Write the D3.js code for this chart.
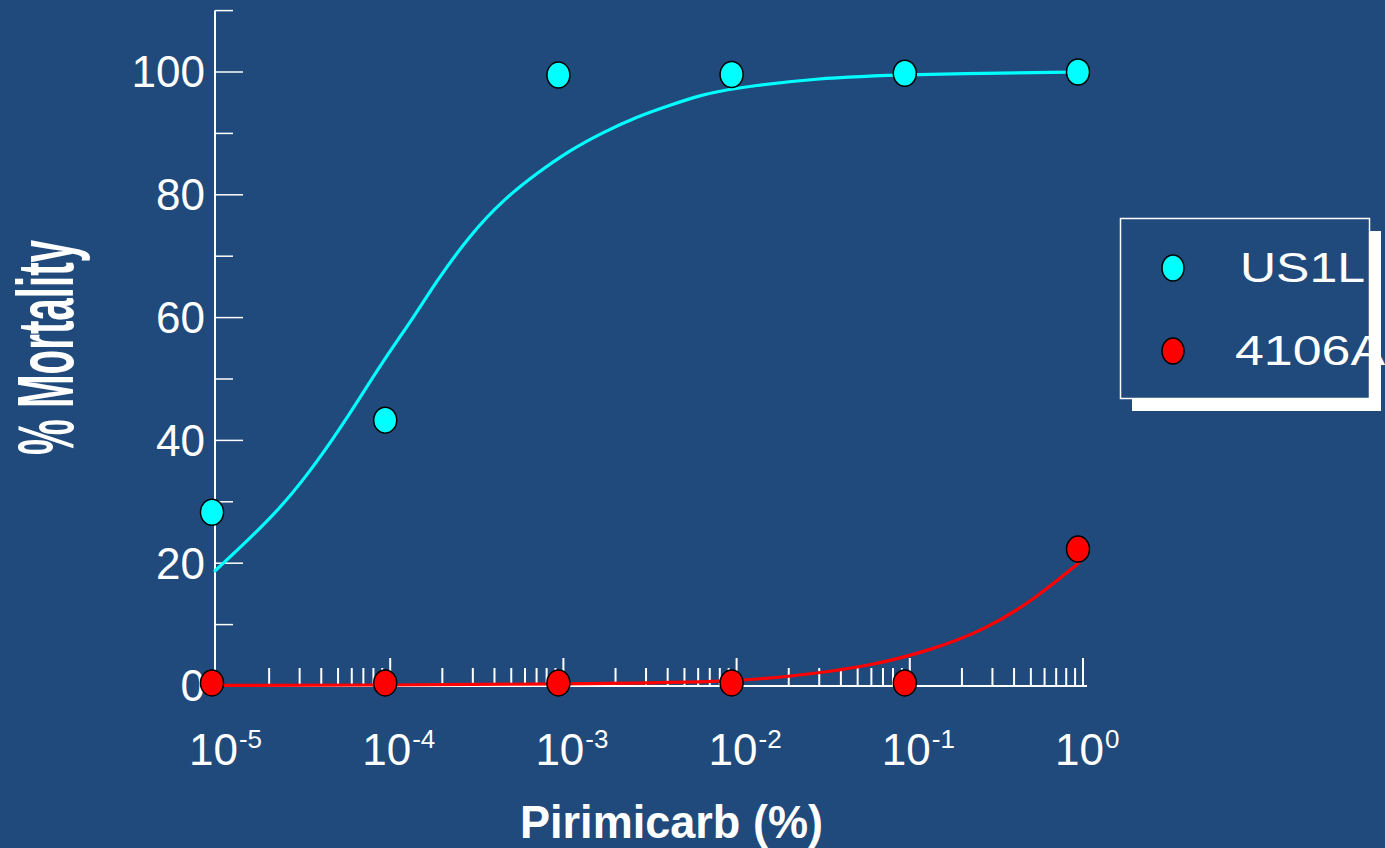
<!DOCTYPE html>
<html>
<head>
<meta charset="utf-8">
<script src="https://cdn.jsdelivr.net/npm/d3@7"></script>
<style>
  html, body { margin: 0; padding: 0; background: #204a7b; overflow: hidden; }
  svg { display: block; }
  text { font-family: "Liberation Sans", Arial, sans-serif; fill: #ffffff; }
</style>
</head>
<body>
<svg id="chart" width="1385" height="848"></svg>
<script>
// ---- Data ----
const seriesNames = ["US1L", "4106A"];
const seriesColors = ["#00ffff", "#ff0000"];
const concentrations = [1e-5, 1e-4, 1e-3, 1e-2, 1e-1, 1];
const us1lMortality = [28.3, 43.3, 99.5, 99.6, 99.8, 100];
const a4106Mortality = [0.5, 0.5, 0.5, 0.5, 0.5, 22.3];

// fitted curves
const us1lFitX = [1e-5, 1.58e-5, 2.46e-5, 3.83e-5, 5.96e-5, 9.29e-5, 1.45e-4, 1.89e-4, 3.01e-4, 4.68e-4, 7.30e-4, 1.14e-3, 1.77e-3, 2.75e-3, 4.29e-3, 6.39e-3, 9.5e-3, 3.0e-2, 9.5e-2, 1];
const us1lFitY = [18.6, 23.8, 29.2, 36.0, 43.9, 52.6, 60.4, 65.6, 73.5, 79.2, 83.5, 87.3, 90.2, 92.7, 94.6, 96.2, 97.3, 99.0, 99.6, 100];
const a4106FitX = [1e-5, 1e-4, 1e-3, 1e-2, 2.0e-2, 5.9e-2, 0.14, 0.28, 0.54, 1];
const a4106FitY = [0.1, 0.15, 0.3, 0.7, 1.5, 3.1, 5.9, 9.1, 14.0, 20.2];

const xTickLabels = [["10", "-5"], ["10", "-4"], ["10", "-3"], ["10", "-2"], ["10", "-1"], ["10", "0"]];
const yTickValues = [0, 20, 40, 60, 80, 100];
const yMinorValues = [10, 30, 50, 70, 90, 110];
const xTitle = "Pirimicarb (%)";
const yTitle = "% Mortality";

// ---- Chart ----
const svg = d3.select("#chart");
const W = 1385, H = 848;
svg.append("rect").attr("width", W).attr("height", H).attr("fill", "#204a7b");

const x = d3.scaleLog().domain([1e-5, 1]).range([214, 1080]);
const y = d3.scaleLinear().domain([0, 110]).range([686, 10.6]);

// X axis (ticks point up)
const xAxisG = svg.append("g").attr("transform", `translate(0,${y(0)})`);
xAxisG.append("line").attr("x1", 215).attr("x2", 1087).attr("stroke", "#fff").attr("stroke-width", 2);
const xt = x.ticks().filter(d => d > 1e-5);
xAxisG.selectAll("line.xt").data(xt).enter().append("line")
  .attr("class", "xt")
  .attr("x1", d => x(d) + 3).attr("x2", d => x(d) + 3)
  .attr("y1", 0)
  .attr("y2", d => (Math.abs(Math.log10(d) - Math.round(Math.log10(d))) < 1e-6) ? -28 : -18)
  .attr("stroke", "#fff").attr("stroke-width", 2);

// X tick labels
const xl = svg.append("g");
concentrations.forEach((c, i) => {
  const t = xl.append("text")
    .attr("x", x(c) - 25).attr("y", 765)
    .attr("font-size", 44);
  t.append("tspan").text(xTickLabels[i][0]);
  t.append("tspan").attr("dx", 1).attr("dy", -17).attr("font-size", 26).text(xTickLabels[i][1]);
});

// Y axis
const yAxisG = svg.append("g").attr("transform", "translate(215,0)");
yAxisG.append("line").attr("y1", y(110)).attr("y2", y(0)).attr("stroke", "#fff").attr("stroke-width", 2);
yAxisG.selectAll("line.ymaj").data(yTickValues).enter().append("line")
  .attr("x1", 0).attr("x2", 28).attr("y1", d => y(d)).attr("y2", d => y(d))
  .attr("stroke", "#fff").attr("stroke-width", 1.5);
yAxisG.selectAll("line.ymin").data(yMinorValues).enter().append("line")
  .attr("x1", 0).attr("x2", 18).attr("y1", d => y(d)).attr("y2", d => y(d))
  .attr("stroke", "#fff").attr("stroke-width", 1.5);
svg.append("g").selectAll("text").data(yTickValues).enter().append("text")
  .attr("x", 205).attr("y", d => y(d)).attr("dy", "0.35em")
  .attr("text-anchor", "end").attr("font-size", 44)
  .text(d => d);

// Axis titles
svg.append("text")
  .attr("x", 520).attr("y", 838)
  .attr("font-size", 46).attr("font-weight", "bold")
  .attr("textLength", 303).attr("lengthAdjust", "spacingAndGlyphs")
  .text(xTitle);
svg.append("text")
  .attr("transform", "translate(73,455) rotate(-90)")
  .attr("font-size", 80).attr("font-weight", "bold")
  .attr("textLength", 215).attr("lengthAdjust", "spacingAndGlyphs")
  .text(yTitle);

// Curves
const line = d3.line().x(d => x(d[0])).y(d => y(d[1])).curve(d3.curveBasis);
svg.append("path").datum(d3.zip(us1lFitX, us1lFitY)).attr("d", line)
  .attr("fill", "none").attr("stroke", seriesColors[0]).attr("stroke-width", 3.2);
svg.append("path").datum(d3.zip(a4106FitX, a4106FitY)).attr("d", line)
  .attr("fill", "none").attr("stroke", seriesColors[1]).attr("stroke-width", 3.2);

// Points
function drawPoints(vals, color) {
  svg.append("g").selectAll("ellipse").data(d3.zip(concentrations, vals)).enter().append("ellipse")
    .attr("cx", d => x(d[0]) - 2).attr("cy", d => y(d[1]))
    .attr("rx", 11.5).attr("ry", 13)
    .attr("fill", color).attr("stroke", "#000").attr("stroke-width", 1.5);
}
drawPoints(us1lMortality, seriesColors[0]);
drawPoints(a4106Mortality, seriesColors[1]);

// Legend
const lg = svg.append("g");
lg.append("rect").attr("x", 1132).attr("y", 231).attr("width", 249).attr("height", 180).attr("fill", "#fff");
lg.append("rect").attr("x", 1120.5).attr("y", 218.5).attr("width", 249).attr("height", 180)
  .attr("fill", "#204a7b").attr("stroke", "#fff").attr("stroke-width", 1.5);
const legendY = [268, 351];
seriesNames.forEach((n, i) => {
  lg.append("ellipse").attr("cx", 1173).attr("cy", legendY[i]).attr("rx", 11).attr("ry", 13)
    .attr("fill", seriesColors[i]).attr("stroke", "#000").attr("stroke-width", 1.5);
  lg.append("text").attr("x", i === 0 ? 1240 : 1235).attr("y", legendY[i] + 14)
    .attr("font-size", 42)
    .attr("textLength", i === 0 ? 125 : 150).attr("lengthAdjust", "spacingAndGlyphs")
    .text(n);
});
</script>
</body>
</html>
